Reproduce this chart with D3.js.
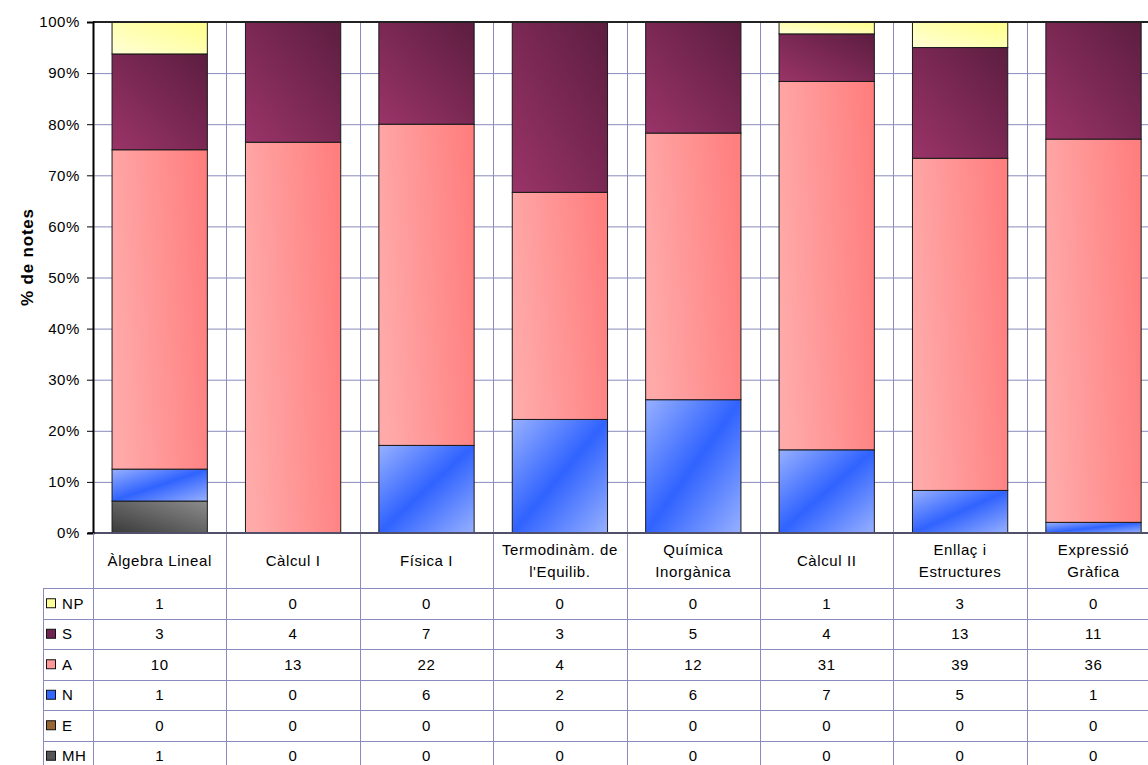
<!DOCTYPE html>
<html><head><meta charset="utf-8">
<script src="https://cdn.jsdelivr.net/npm/d3@7"></script>
<style>
html,body{margin:0;padding:0;background:#fff;overflow:hidden}
text{font-family:"Liberation Sans",Arial,sans-serif;fill:#000}
</style></head>
<body>
<svg id="chart" width="1148" height="765"></svg>
<script>
// ---- data ----
const categories = ["Àlgebra Lineal","Càlcul I","Física I","Termodinàm. de\nl'Equilib.","Química\nInorgànica","Càlcul II","Enllaç i\nEstructures","Expressió\nGràfica"];
const seriesNames = ["NP","S","A","N","E","MH"]; // table order (top to bottom)
const NP = [1,0,0,0,0,1,3,0];
const S  = [3,4,7,3,5,4,13,11];
const A  = [10,13,22,4,12,31,39,36];
const N  = [1,0,6,2,6,7,5,1];
const E  = [0,0,0,0,0,0,0,0];
const MH = [1,0,0,0,0,0,0,0];
const yTicks = [0,0.1,0.2,0.3,0.4,0.5,0.6,0.7,0.8,0.9,1];
const yTitle = "% de notes";

const valuesBySeries = {NP, S, A, N, E, MH};
const stackOrder = ["MH","E","N","A","S","NP"]; // bottom to top

// ---- layout ----
const svg = d3.select("#chart");
const plotLeft = 93, plotTop = 22, plotBottom = 533, step = 133.4;
const plotRight = plotLeft + step * categories.length;
const gridColor = "#8a8abf";
const FS = 15, LS = 0.6;

const x = d3.scaleBand().domain(categories).range([plotLeft, plotRight]).paddingInner(0.2857).paddingOuter(0.1428);
const y = d3.scaleLinear().domain([0,1]).range([plotBottom, plotTop]);

// gradients
const defs = svg.append("defs");
function grad(id, x1,y1,x2,y2, stops){
  const g = defs.append("linearGradient").attr("id",id).attr("x1",x1).attr("y1",y1).attr("x2",x2).attr("y2",y2);
  stops.forEach(s=>g.append("stop").attr("offset",s[0]).attr("stop-color",s[1]));
}
grad("gNP",0,1,1,0,[[0,"#ffffd6"],[1,"#ffff8c"]]);
grad("gS",0,1,1,0,[[0,"#9a3468"],[1,"#5c1d40"]]);
grad("gA",0,0.6,1,0.4,[[0,"#ffaaaa"],[1,"#ff7f7f"]]);
grad("gN",0,0,1,1,[[0,"#97b0ff"],[0.5,"#3063ff"],[1,"#97b0ff"]]);
grad("gE",0,1,1,0,[[0,"#6b4420"],[1,"#b07a40"]]);
grad("gMH",0,1,1,0,[[0,"#3a3a3a"],[1,"#8c8c8c"]]);
const fills = {NP:"url(#gNP)",S:"url(#gS)",A:"url(#gA)",N:"url(#gN)",E:"url(#gE)",MH:"url(#gMH)"};
const keyColors = {NP:"#ffff99",S:"#6e2350",A:"#ff9999",N:"#3366ff",E:"#996633",MH:"#555555"};

// gridlines
const g = svg.append("g");
g.selectAll(".hg").data(yTicks.slice(1)).join("line")
  .attr("x1",plotLeft).attr("x2",plotRight).attr("y1",d=>y(d)+0.5).attr("y2",d=>y(d)+0.5)
  .attr("stroke",gridColor).attr("stroke-width",1);
// vertical lines at category boundaries (plot + table)
const headerBottom = 588, rowH = 30.5;
const tableBottom = headerBottom + rowH * seriesNames.length;
const bounds = d3.range(categories.length+1).map(i=>plotLeft + i*step);
g.selectAll(".vg").data(bounds.slice(1)).join("line")
  .attr("x1",d=>Math.round(d)+0.5).attr("x2",d=>Math.round(d)+0.5)
  .attr("y1",plotTop).attr("y2",tableBottom)
  .attr("stroke",gridColor).attr("stroke-width",1);

// stacked bars
const table = categories.map((c,i)=>{const o={cat:c}; stackOrder.forEach(k=>o[k]=valuesBySeries[k][i]); return o;});
const stacked = d3.stack().keys(stackOrder).offset(d3.stackOffsetExpand)(table);
stacked.forEach(layer=>{
  svg.append("g").selectAll("rect").data(layer.filter(d=>d[1]-d[0]>0)).join("rect")
    .attr("x",d=>x(d.data.cat)).attr("width",x.bandwidth())
    .attr("y",d=>y(d[1])).attr("height",d=>y(d[0])-y(d[1]))
    .attr("fill",fills[layer.key]).attr("stroke","#1a1a1a").attr("stroke-width",1);
});

// axes lines
svg.append("line").attr("x1",plotLeft).attr("x2",plotRight).attr("y1",plotTop).attr("y2",plotTop)
  .attr("stroke","#222").attr("stroke-width",2);
svg.append("line").attr("x1",plotLeft-5).attr("x2",plotRight).attr("y1",plotBottom).attr("y2",plotBottom)
  .attr("stroke","#50506a").attr("stroke-width",2);

const yAxis = d3.axisLeft(y).tickValues(yTicks).tickFormat(d3.format(".0%")).tickSize(6).tickPadding(7);
const ya = svg.append("g").attr("transform",`translate(${plotLeft},0)`).call(yAxis);
ya.select(".domain").attr("stroke","#000").attr("stroke-width",2);
ya.selectAll(".tick line").attr("stroke","#000");
ya.selectAll(".tick text").attr("font-size",FS).attr("letter-spacing",LS)
  .attr("font-family","Liberation Sans, Arial, sans-serif").attr("fill","#000");

// y title
svg.append("text").attr("transform","translate(33,257) rotate(-90)").attr("text-anchor","middle")
  .attr("font-size",17).attr("letter-spacing",0.8).attr("font-weight","bold").text(yTitle);

// ---- data table ----
const tg = svg.append("g");
const rowLines = d3.range(seriesNames.length+1).map(i=>headerBottom + i*rowH);
tg.selectAll(".hl").data(rowLines).join("line")
  .attr("x1",43).attr("x2",plotRight).attr("y1",d=>Math.round(d)+0.5).attr("y2",d=>Math.round(d)+0.5)
  .attr("stroke",gridColor).attr("stroke-width",1);
tg.append("line").attr("x1",43.5).attr("x2",43.5).attr("y1",headerBottom).attr("y2",tableBottom).attr("stroke",gridColor);
tg.append("line").attr("x1",plotLeft+0.5).attr("x2",plotLeft+0.5).attr("y1",plotBottom).attr("y2",tableBottom).attr("stroke",gridColor);

// header category labels
categories.forEach((c,i)=>{
  const lines = c.split("\n");
  const cx = plotLeft + (i+0.5)*step;
  const t = tg.append("text").attr("text-anchor","middle").attr("font-size",FS).attr("letter-spacing",LS);
  const cy = (plotBottom+headerBottom)/2;
  lines.forEach((l,j)=>{
    t.append("tspan").attr("x",cx).attr("y",cy + 5.5 + (j-(lines.length-1)/2)*22).text(l);
  });
});

// rows
seriesNames.forEach((s,r)=>{
  const cy = headerBottom + (r+0.5)*rowH;
  tg.append("rect").attr("x",46.5).attr("y",cy-4.5).attr("width",9).attr("height",9)
    .attr("fill",keyColors[s]).attr("stroke","#111").attr("stroke-width",1);
  tg.append("text").attr("x",62).attr("y",cy+5.5).attr("font-size",FS).attr("letter-spacing",LS).text(s);
  valuesBySeries[s].forEach((v,i)=>{
    tg.append("text").attr("x",plotLeft+(i+0.5)*step).attr("y",cy+5.5).attr("text-anchor","middle")
      .attr("font-size",FS).attr("letter-spacing",LS).text(v);
  });
});
</script>
</body></html>
